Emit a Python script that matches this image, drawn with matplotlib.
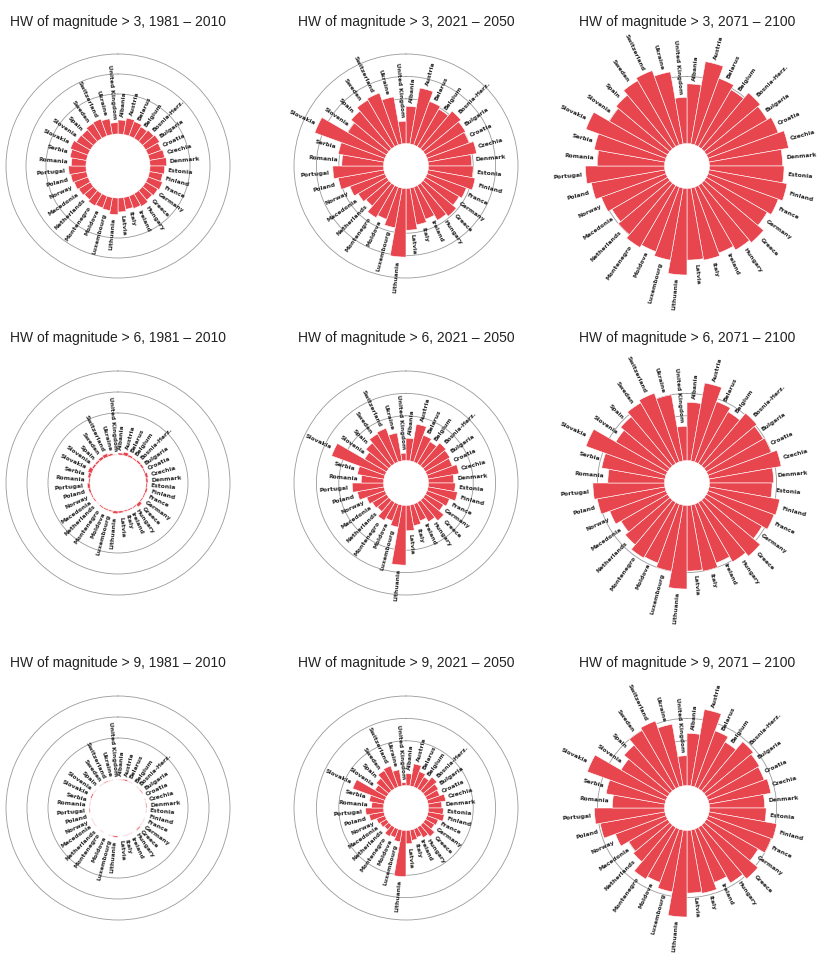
import numpy as np
import matplotlib.pyplot as plt

# region names (one bar each, clockwise from 12 o'clock)
names = ['Albania', 'Austria', 'Belarus', 'Belgium', 'Bosnia-Herz.', 'Bulgaria',
         'Croatia', 'Czechia', 'Denmark', 'Estonia', 'Finland', 'France',
         'Germany', 'Greece', 'Hungary', 'Ireland', 'Italy', 'Latvia',
         'Lithuania', 'Luxembourg', 'Moldova', 'Montenegro', 'Netherlands', 'Macedonia',
         'Norway', 'Poland', 'Portugal', 'Romania', 'Serbia', 'Slovakia',
         'Slovenia', 'Spain', 'Sweden', 'Switzerland', 'Ukraine', 'United Kingdom']

thresholds = [3, 6, 9]
periods = ['1981 \u2013 2010', '2021 \u2013 2050', '2071 \u2013 2100']

# magnitude > 3
m3_1981 = [21, 25, 23, 20, 22, 24, 21, 23, 25, 22, 20, 23, 21, 19, 22, 20, 18, 21,
           25, 20, 19, 21, 18, 20, 22, 24, 26, 22, 25, 28, 24, 23, 26, 27, 24, 17]
m3_2021 = [50, 76, 62, 58, 66, 62, 60, 66, 58, 60, 64, 56, 52, 58, 54, 46, 50, 56,
           92, 54, 46, 50, 40, 44, 50, 62, 68, 56, 62, 100, 60, 66, 72, 74, 64, 30]
m3_2071 = [80, 112, 95, 88, 98, 94, 100, 108, 98, 100, 106, 100, 94, 104, 100, 94, 98, 96,
           116, 98, 92, 96, 90, 86, 92, 100, 106, 90, 96, 114, 90, 94, 102, 106, 98, 62]

# magnitude > 6
m6_1981 = [3, 5, 3, 2, 3, 3, 2, 4, 3, 2, 3, 2, 2, 5, 2, 2, 2, 3,
           4, 2, 2, 2, 1, 2, 2, 3, 4, 2, 4, 6, 3, 3, 4, 5, 3, 1]
m6_2021 = [30, 50, 38, 34, 40, 38, 36, 42, 34, 36, 40, 32, 28, 36, 30, 24, 28, 34,
           80, 30, 24, 28, 20, 22, 26, 36, 42, 30, 36, 76, 34, 40, 46, 48, 38, 10]
m6_2071 = [78, 106, 86, 80, 92, 88, 90, 98, 86, 84, 96, 94, 86, 98, 92, 84, 90, 88,
           112, 90, 84, 86, 78, 72, 80, 92, 96, 76, 86, 114, 80, 86, 94, 98, 90, 46]

# magnitude > 9
m9_1981 = [1, 2, 1, 0, 1, 1.5, 0, 1, 1.5, 1, 0, 1, 1, 2, 0, 1, 1, 0,
           2, 1, 0, 1, 0, 1, 1, 0, 1.5, 1, 1, 2, 1, 0, 1, 1.5, 1, 0]
m9_2021 = [16, 30, 22, 18, 24, 20, 18, 24, 18, 20, 22, 16, 14, 20, 16, 12, 14, 18,
           62, 16, 12, 14, 8, 10, 12, 20, 24, 16, 20, 46, 18, 22, 28, 30, 22, 4]
m9_2071 = [70, 104, 80, 72, 86, 82, 80, 84, 74, 76, 92, 90, 80, 94, 86, 76, 86, 84,
           116, 84, 76, 80, 64, 60, 72, 88, 94, 70, 80, 112, 72, 80, 90, 94, 84, 40]

grid = [[m3_1981, m3_2021, m3_2071],
        [m6_1981, m6_2021, m6_2071],
        [m9_1981, m9_2021, m9_2071]]

# lower radial limit (empty centre) for each panel
hole = [[-48, -30, -30],
        [-40, -30, -30],
        [-40, -30, -30]]

W, H = 817, 973
R = 112
col_x = [118, 406, 687]
row_y = [166, 483, 808]
title_y = [22, 338, 663]
red = '#e8464f'
ring = '#9a9a9a'

fig = plt.figure(figsize=(W / 100, H / 100), dpi=100)

n = len(names)
theta = np.arange(n) * 2 * np.pi / n + np.pi / n
width = 2 * np.pi / n

for r in range(3):
    for c in range(3):
        vals = np.array(grid[r][c], dtype=float)
        cx, cy = col_x[c], row_y[r]
        ax = fig.add_axes([(cx - R) / W, (H - cy - R) / H, 2 * R / W, 2 * R / H],
                          projection='polar')
        ax.set_theta_zero_location('N')
        ax.set_theta_direction(-1)
        ax.set_ylim(hole[r][c], 120)
        ax.bar(theta, vals, width=width, bottom=0, color=red,
               edgecolor='white', linewidth=0.4, zorder=2)

        ax.set_xticks([])
        ax.set_yticks([60, 90])
        ax.set_yticklabels([])
        ax.yaxis.grid(True, color=ring, linewidth=0.6)
        ax.xaxis.grid(False)
        # the late period panels have no outer ring
        ax.spines['polar'].set_visible(c < 2)
        ax.spines['polar'].set_color(ring)
        ax.spines['polar'].set_linewidth(0.6)
        ax.set_axisbelow(True)

        for t, v, name in zip(theta, vals, names):
            deg = np.degrees(t)
            if deg < 180:
                rot, ha = 90 - deg, 'left'
            else:
                rot, ha = 270 - deg, 'right'
            ax.text(t, v + 5, name, rotation=rot, rotation_mode='anchor',
                    ha=ha, va='center', fontsize=4.3, fontweight='bold',
                    color='#262626', zorder=3)

        fig.text(col_x[c] / W, 1 - title_y[r] / H,
                 f'HW of magnitude > {thresholds[r]}, {periods[c]}',
                 ha='center', va='center', fontsize=10, family='Liberation Sans',
                 color='#222222')

fig.savefig('out.png', dpi=100, facecolor='white')
